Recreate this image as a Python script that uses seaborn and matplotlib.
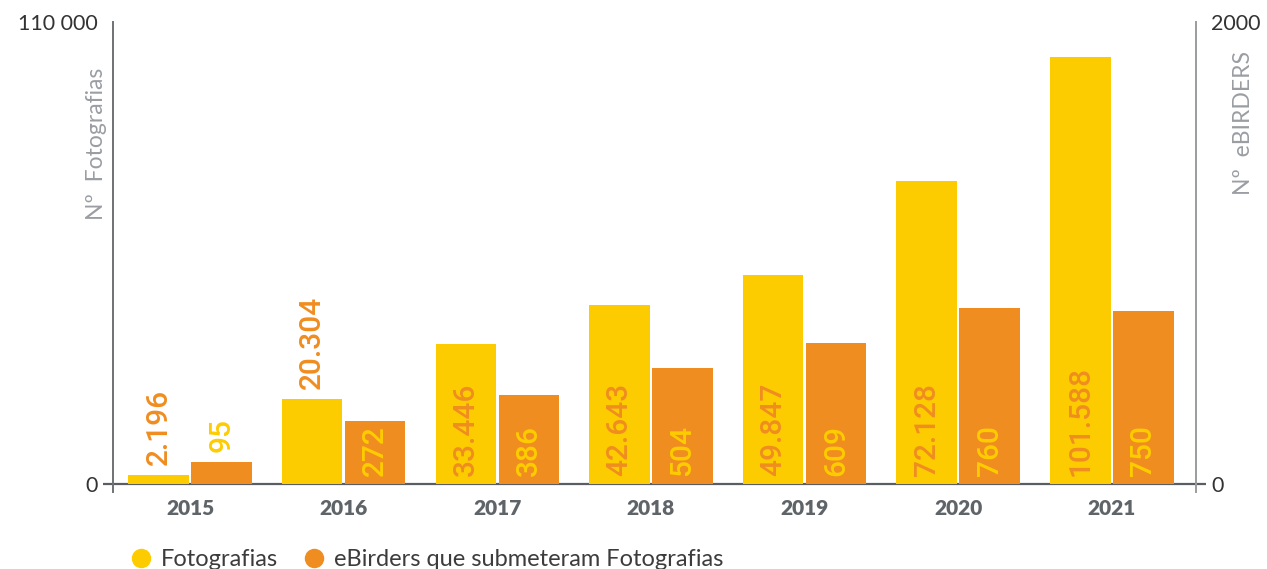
import matplotlib
matplotlib.use("Agg")
import matplotlib.pyplot as plt
from matplotlib.lines import Line2D
import seaborn as sns
import pandas as pd

# ---- data ----
years = ["2015", "2016", "2017", "2018", "2019", "2020", "2021"]
fotografias = [2196, 20304, 33446, 42643, 49847, 72128, 101588]
ebirders = [95, 272, 386, 504, 609, 760, 750]
series_names = ["Fotografias", "eBirders que submeteram Fotografias"]
photo_ticks = [0, 110000]
photo_tick_labels = ["0", "110 000"]
birder_ticks = [0, 2000]
birder_tick_labels = ["0", "2000"]

YELLOW = "#FDCC00"
ORANGE = "#F08D20"
palette = {series_names[0]: YELLOW, series_names[1]: ORANGE}

sns.set_theme(style="white")
plt.rcParams["font.family"] = ["Lato", "DejaVu Sans"]

df = pd.concat([
    pd.DataFrame({"ano": years, "valor": fotografias, "serie": series_names[0]}),
    pd.DataFrame({"ano": years, "valor": ebirders, "serie": series_names[1]}),
], ignore_index=True)

DPI = 100
fig = plt.figure(figsize=(12.67, 5.69), dpi=DPI)
ax1 = fig.add_axes([113 / 1267, 77 / 569, 1083 / 1267, 470 / 569])
ax2 = ax1.twinx()

common = dict(x="ano", y="valor", hue="serie", hue_order=series_names, order=years,
              palette=palette, width=0.82, gap=0.04, errorbar=None, linewidth=0,
              saturation=1, legend=False)
# both axes get the full dodged layout; each keeps only the series on its own scale
sns.barplot(data=df, ax=ax1, **common)
sns.barplot(data=df, ax=ax2, **common)
for p in list(ax1.containers[1]):
    p.remove()
for p in list(ax2.containers[0]):
    p.remove()
photo_bars = list(ax1.containers[0])
birder_bars = list(ax2.containers[1])

# extra room below zero so the spines run a little past the baseline
below = 8 / 462
ax1.set_ylim(-photo_ticks[1] * below, photo_ticks[1])
ax2.set_ylim(-birder_ticks[1] * below, birder_ticks[1])
ax1.set_xlim(-0.502, 6.548)

for ax in (ax1, ax2):
    ax.set_xlabel("")
    ax.set_ylabel("")
    ax.spines["top"].set_visible(False)
    ax.spines["bottom"].set_visible(False)
    ax.patch.set_visible(False)

ax1.spines["right"].set_visible(False)
ax2.spines["left"].set_visible(False)
ax1.spines["left"].set_color("#6f7275")
ax1.spines["left"].set_linewidth(1.4)
ax2.spines["right"].set_color("#9a9c9e")
ax2.spines["right"].set_linewidth(1.4)

# baseline
ax1.axhline(0, color="#5a5e62", lw=1.6, zorder=0)

# y ticks
ax1.set_yticks(photo_ticks)
ax1.set_yticklabels(photo_tick_labels)
ax2.set_yticks(birder_ticks)
ax2.set_yticklabels(birder_tick_labels)
ax1.tick_params(axis="y", left=True, length=7.5, width=1.6, color="#5a5e62",
                pad=3.5, labelsize=15.5, labelcolor="#333333")
ax2.tick_params(axis="y", right=True, length=7.5, width=1.6, color="#5a5e62",
                pad=3.5, labelsize=15.5, labelcolor="#333333")
ax1.yaxis.get_major_ticks()[1].tick1line.set_visible(False)
ax2.yaxis.get_major_ticks()[1].tick2line.set_visible(False)

# x ticks (years)
ax1.tick_params(axis="x", bottom=False, length=0, pad=5)
for lbl in ax1.get_xticklabels():
    lbl.set_fontsize(15)
    lbl.set_fontweight("heavy")
    lbl.set_color("#5f6469")

# axis titles
ax1.set_ylabel("Nº  Fotografias", fontsize=16.5, color="#9a9ea3")
ax1.yaxis.set_label_coords(-0.006, 0.74)
ax2.set_ylabel("Nº  eBIRDERS", fontsize=16.5, color="#9a9ea3", rotation=90)
ax2.yaxis.set_label_coords(1.034, 0.786)

# value labels: inside the bar at its base when they fit, otherwise above
label_font = dict(family=["Roboto", "DejaVu Sans"], size=21.5, weight="medium")
px = 72 / DPI
fig.canvas.draw()
renderer = fig.canvas.get_renderer()


def fmt(v):
    return f"{v:,}".replace(",", ".")


for ax, bars, values, txt_color in ((ax1, photo_bars, fotografias, ORANGE),
                                     (ax2, birder_bars, ebirders, YELLOW)):
    for bar, v in zip(bars, values):
        xc = bar.get_x() + bar.get_width() / 2
        ann = ax.annotate(fmt(v), xy=(xc, 0), xytext=(0, 8 * px), textcoords="offset points",
                          rotation=90, ha="center", va="bottom", color=txt_color,
                          annotation_clip=False, **label_font)
        text_h = ann.get_window_extent(renderer).height
        y0 = ax.transData.transform((xc, 0))[1]
        y1 = ax.transData.transform((xc, v))[1]
        if text_h + 10 > (y1 - y0):
            ann.xy = (xc, v)
            ann.set_position((0, 10 * px))

# legend
handles = [Line2D([], [], marker="o", ls="", color=palette[n], markersize=13) for n in series_names]
leg = fig.legend(handles, series_names, ncol=2, loc="center left",
                 bbox_to_anchor=(129 / 1267, 9 / 569), frameon=False, fontsize=17,
                 handlelength=1.0, handletextpad=0.36, columnspacing=1.0,
                 borderpad=0, borderaxespad=0)
for t in leg.get_texts():
    t.set_color("#3c3c3c")

fig.savefig("out.png", dpi=DPI)
